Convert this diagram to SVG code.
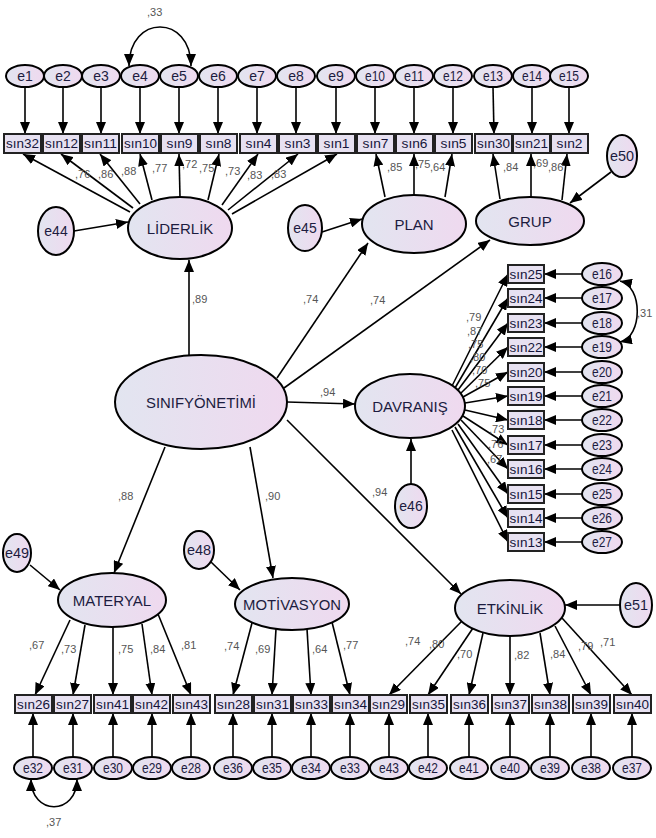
<svg xmlns="http://www.w3.org/2000/svg" width="656" height="838" viewBox="0 0 656 838">
<style>
.lat{stroke:#000;stroke-width:2;fill:url(#g)}
.err{stroke:#000;stroke-width:2;fill:url(#g)}
.box{stroke:#222;stroke-width:2;fill:#e7e1f1}
.lt{font-family:"Liberation Sans",Arial,sans-serif;font-size:15px;fill:#1c1c40;text-anchor:middle}
.et{font-family:"Liberation Sans",Arial,sans-serif;font-size:14px;fill:#1c1c40;text-anchor:middle}
.bt{font-family:"Liberation Sans",Arial,sans-serif;font-size:13px;fill:#15153a;text-anchor:middle}
.c{font-family:"Liberation Sans",Arial,sans-serif;font-size:11px;fill:#555}
.ln{stroke:#000;stroke-width:1.6;fill:none;marker-end:url(#ah)}
.cv{stroke:#000;stroke-width:1.6;fill:none;marker-start:url(#ah);marker-end:url(#ah)}
</style>
<defs>
<linearGradient id="g" x1="0" x2="1" y1="0" y2="0"><stop offset="0" stop-color="#e2e5f0"/><stop offset="1" stop-color="#efd9ef"/></linearGradient>
<marker id="ah" viewBox="0 0 12 10" refX="12" refY="5" markerWidth="12" markerHeight="10" markerUnits="userSpaceOnUse" orient="auto-start-reverse"><path d="M0,0 L12,5 L0,10 z" fill="#000"/></marker>
</defs>
<rect width="656" height="838" fill="#fff"/>

<g id="connectors">
<!-- top error arrows -->
<path class="ln" d="M25,87V134"/><path class="ln" d="M63,87V134"/><path class="ln" d="M101,87V134"/><path class="ln" d="M140,87V134"/><path class="ln" d="M179,87V134"/><path class="ln" d="M218,87V134"/><path class="ln" d="M257,87V134"/><path class="ln" d="M296,87V134"/><path class="ln" d="M336,87V134"/><path class="ln" d="M375,87V134"/><path class="ln" d="M414,87V134"/><path class="ln" d="M453,87V134"/><path class="ln" d="M493,87L494,134"/><path class="ln" d="M532,87V134"/><path class="ln" d="M569,87V134"/>
<path class="cv" d="M129,66 C129,14 191,14 191,66"/>
<!-- LIDERLIK indicators -->
<path class="ln" d="M130,212L23,154"/>
<path class="ln" d="M133,208L61,154"/>
<path class="ln" d="M140,204L100,154"/>
<path class="ln" d="M152,200L140,154"/>
<path class="ln" d="M180,197L179,154"/>
<path class="ln" d="M208,200L219,154"/>
<path class="ln" d="M222,205L258,154"/>
<path class="ln" d="M228,210L298,154"/>
<path class="ln" d="M232,214L337,154"/>
<path class="ln" d="M74,231L128,222"/>
<!-- PLAN -->
<path class="ln" d="M385,197L376,154"/>
<path class="ln" d="M414,195V154"/>
<path class="ln" d="M445,197L452,154"/>
<path class="ln" d="M322,232L362,219"/>
<!-- GRUP -->
<path class="ln" d="M500,199L493,154"/>
<path class="ln" d="M531,197V154"/>
<path class="ln" d="M562,200L567,154"/>
<path class="ln" d="M611,172L570,203"/>
<!-- structural -->
<path class="ln" d="M189,355V260"/>
<path class="ln" d="M277,378L368,243"/>
<path class="ln" d="M284,388L490,240"/>
<path class="ln" d="M287,402L355,404"/>
<path class="ln" d="M165,447L114,573"/>
<path class="ln" d="M250,447L273,578"/>
<path class="ln" d="M287,420L461,594"/>
<path class="ln" d="M411,484V439"/>
<!-- DAVRANIS indicators -->
<path class="ln" d="M452,386L508,274"/>
<path class="ln" d="M455,388L508,298"/>
<path class="ln" d="M458,390L508,323"/>
<path class="ln" d="M461,393L508,347"/>
<path class="ln" d="M463,397L508,372"/>
<path class="ln" d="M465,403L508,396"/>
<path class="ln" d="M465,410L508,420"/>
<path class="ln" d="M463,416L508,445"/>
<path class="ln" d="M461,420L508,469"/>
<path class="ln" d="M458,424L508,494"/>
<path class="ln" d="M455,427L508,518"/>
<path class="ln" d="M452,430L508,542"/>
<path class="ln" d="M582,274H544"/><path class="ln" d="M582,298H544"/><path class="ln" d="M582,323H544"/><path class="ln" d="M582,347H544"/><path class="ln" d="M582,372H544"/><path class="ln" d="M582,396H544"/><path class="ln" d="M582,420H544"/><path class="ln" d="M582,445H544"/><path class="ln" d="M582,469H544"/><path class="ln" d="M582,494H544"/><path class="ln" d="M582,518H544"/><path class="ln" d="M582,542H544"/>
<path class="cv" d="M620,281 C643,286 643,337 620,342"/>
<!-- MATERYAL -->
<path class="ln" d="M70,620L35,695"/>
<path class="ln" d="M85,625L73,695"/>
<path class="ln" d="M113,627V695"/>
<path class="ln" d="M142,624L152,695"/>
<path class="ln" d="M158,614L191,695"/>
<path class="ln" d="M30,565L60,590"/>
<!-- MOTIVASYON -->
<path class="ln" d="M252,623L233,695"/>
<path class="ln" d="M276,629L272,695"/>
<path class="ln" d="M307,629L311,695"/>
<path class="ln" d="M332,622L350,695"/>
<path class="ln" d="M211,562L240,590"/>
<!-- ETKINLIK -->
<path class="ln" d="M462,621L389,695"/>
<path class="ln" d="M473,628L428,695"/>
<path class="ln" d="M483,633L469,695"/>
<path class="ln" d="M510,636V695"/>
<path class="ln" d="M540,633L550,695"/>
<path class="ln" d="M555,626L591,695"/>
<path class="ln" d="M562,618L632,695"/>
<path class="ln" d="M620,605H565"/>
<!-- bottom error arrows -->
<path class="ln" d="M33,757V713"/><path class="ln" d="M73,757V713"/><path class="ln" d="M113,757V713"/><path class="ln" d="M152,757V713"/><path class="ln" d="M191,757V713"/><path class="ln" d="M233,757V713"/><path class="ln" d="M272,757V713"/><path class="ln" d="M311,757V713"/><path class="ln" d="M350,757V713"/><path class="ln" d="M389,757V713"/><path class="ln" d="M428,757V713"/><path class="ln" d="M469,757V713"/><path class="ln" d="M510,757V713"/><path class="ln" d="M550,757V713"/><path class="ln" d="M591,757V713"/><path class="ln" d="M632,757V713"/>
<path class="cv" d="M31,779 C31,816 77,816 77,779"/>
</g>

<g id="coefficients" class="c">
<text x="147" y="16">,33</text>
<text x="75" y="178">,76</text>
<text x="98" y="178">,86</text>
<text x="121" y="175">,88</text>
<text x="152" y="172">,77</text>
<text x="182" y="168">,72</text>
<text x="199" y="172">,75</text>
<text x="225" y="175">,73</text>
<text x="247" y="179">,83</text>
<text x="271" y="178">,83</text>
<text x="387" y="171">,85</text>
<text x="415" y="168">,75</text>
<text x="430" y="171">,64</text>
<text x="503" y="171">,84</text>
<text x="533" y="167">,69</text>
<text x="548" y="171">,86</text>
<text x="192" y="303">,89</text>
<text x="303" y="303">,74</text>
<text x="370" y="304">,74</text>
<text x="320" y="396">,94</text>
<text x="118" y="500">,88</text>
<text x="265" y="500">,90</text>
<text x="372" y="496">,94</text>
<text x="466" y="321">,79</text>
<text x="467" y="335">,87</text>
<text x="468" y="348">,75</text>
<text x="470" y="361">,80</text>
<text x="472" y="374">,70</text>
<text x="475" y="387">,75</text>
<text x="489" y="433">,73</text>
<text x="488" y="448">,76</text>
<text x="487" y="463">,67</text>
<text x="637" y="317">,31</text>
<text x="29" y="649">,67</text>
<text x="61" y="653">,73</text>
<text x="118" y="653">,75</text>
<text x="150" y="653">,84</text>
<text x="181" y="649">,81</text>
<text x="224" y="650">,74</text>
<text x="255" y="653">,69</text>
<text x="312" y="653">,64</text>
<text x="343" y="649">,77</text>
<text x="405" y="645">,74</text>
<text x="429" y="648">,80</text>
<text x="457" y="658">,70</text>
<text x="514" y="659">,82</text>
<text x="550" y="658">,84</text>
<text x="578" y="650">,79</text>
<text x="600" y="646">,71</text>
<text x="46" y="826">,37</text>
</g>

<g id="top-errors">
<g id="e1"><ellipse class="err" cx="25" cy="76" rx="19" ry="11"/><text class="et" x="25" y="81">e1</text></g>
<g id="e2"><ellipse class="err" cx="63" cy="76" rx="19" ry="11"/><text class="et" x="63" y="81">e2</text></g>
<g id="e3"><ellipse class="err" cx="101" cy="76" rx="19" ry="11"/><text class="et" x="101" y="81">e3</text></g>
<g id="e4"><ellipse class="err" cx="140" cy="76" rx="19" ry="11"/><text class="et" x="140" y="81">e4</text></g>
<g id="e5"><ellipse class="err" cx="179" cy="76" rx="19" ry="11"/><text class="et" x="179" y="81">e5</text></g>
<g id="e6"><ellipse class="err" cx="218" cy="76" rx="19" ry="11"/><text class="et" x="218" y="81">e6</text></g>
<g id="e7"><ellipse class="err" cx="257" cy="76" rx="19" ry="11"/><text class="et" x="257" y="81">e7</text></g>
<g id="e8"><ellipse class="err" cx="296" cy="76" rx="19" ry="11"/><text class="et" x="296" y="81">e8</text></g>
<g id="e9"><ellipse class="err" cx="336" cy="76" rx="19" ry="11"/><text class="et" x="336" y="81">e9</text></g>
<g id="e10"><ellipse class="err" cx="375" cy="76" rx="19" ry="11"/><text class="et" x="375" y="81" textLength="20" lengthAdjust="spacingAndGlyphs">e10</text></g>
<g id="e11"><ellipse class="err" cx="414" cy="76" rx="19" ry="11"/><text class="et" x="414" y="81" textLength="20" lengthAdjust="spacingAndGlyphs">e11</text></g>
<g id="e12"><ellipse class="err" cx="453" cy="76" rx="19" ry="11"/><text class="et" x="453" y="81" textLength="20" lengthAdjust="spacingAndGlyphs">e12</text></g>
<g id="e13"><ellipse class="err" cx="493" cy="76" rx="19" ry="11"/><text class="et" x="493" y="81" textLength="20" lengthAdjust="spacingAndGlyphs">e13</text></g>
<g id="e14"><ellipse class="err" cx="532" cy="76" rx="19" ry="11"/><text class="et" x="532" y="81" textLength="20" lengthAdjust="spacingAndGlyphs">e14</text></g>
<g id="e15"><ellipse class="err" cx="569" cy="76" rx="19" ry="11"/><text class="et" x="569" y="81" textLength="20" lengthAdjust="spacingAndGlyphs">e15</text></g>
</g>

<g id="top-items">
<g id="sin32"><rect class="box" x="4" y="134" width="37" height="19"/><text class="bt" x="22.5" y="148" textLength="33" lengthAdjust="spacingAndGlyphs">sın32</text></g>
<g id="sin12"><rect class="box" x="43" y="134" width="37" height="19"/><text class="bt" x="61.5" y="148" textLength="33" lengthAdjust="spacingAndGlyphs">sın12</text></g>
<g id="sin11"><rect class="box" x="82" y="134" width="37" height="19"/><text class="bt" x="100.5" y="148" textLength="33" lengthAdjust="spacingAndGlyphs">sın11</text></g>
<g id="sin10"><rect class="box" x="122" y="134" width="37" height="19"/><text class="bt" x="140.5" y="148" textLength="33" lengthAdjust="spacingAndGlyphs">sın10</text></g>
<g id="sin9"><rect class="box" x="161" y="134" width="37" height="19"/><text class="bt" x="179.5" y="148" textLength="26" lengthAdjust="spacingAndGlyphs">sın9</text></g>
<g id="sin8"><rect class="box" x="200" y="134" width="37" height="19"/><text class="bt" x="218.5" y="148" textLength="26" lengthAdjust="spacingAndGlyphs">sın8</text></g>
<g id="sin4"><rect class="box" x="240" y="134" width="37" height="19"/><text class="bt" x="258.5" y="148" textLength="26" lengthAdjust="spacingAndGlyphs">sın4</text></g>
<g id="sin3"><rect class="box" x="279" y="134" width="37" height="19"/><text class="bt" x="297.5" y="148" textLength="26" lengthAdjust="spacingAndGlyphs">sın3</text></g>
<g id="sin1"><rect class="box" x="318" y="134" width="37" height="19"/><text class="bt" x="336.5" y="148" textLength="26" lengthAdjust="spacingAndGlyphs">sın1</text></g>
<g id="sin7"><rect class="box" x="357" y="134" width="37" height="19"/><text class="bt" x="375.5" y="148" textLength="26" lengthAdjust="spacingAndGlyphs">sın7</text></g>
<g id="sin6"><rect class="box" x="396" y="134" width="37" height="19"/><text class="bt" x="414.5" y="148" textLength="26" lengthAdjust="spacingAndGlyphs">sın6</text></g>
<g id="sin5"><rect class="box" x="435" y="134" width="37" height="19"/><text class="bt" x="453.5" y="148" textLength="26" lengthAdjust="spacingAndGlyphs">sın5</text></g>
<g id="sin30"><rect class="box" x="475" y="134" width="37" height="19"/><text class="bt" x="493.5" y="148" textLength="33" lengthAdjust="spacingAndGlyphs">sın30</text></g>
<g id="sin21"><rect class="box" x="513" y="134" width="37" height="19"/><text class="bt" x="531.5" y="148" textLength="33" lengthAdjust="spacingAndGlyphs">sın21</text></g>
<g id="sin2"><rect class="box" x="551" y="134" width="37" height="19"/><text class="bt" x="569.5" y="148" textLength="26" lengthAdjust="spacingAndGlyphs">sın2</text></g>
</g>

<g id="latents">
<g id="LIDERLIK"><ellipse class="lat" cx="180" cy="228" rx="52" ry="31"/><text class="lt" x="180" y="234">LİDERLİK</text></g>
<g id="PLAN"><ellipse class="lat" cx="414" cy="224" rx="52" ry="29"/><text class="lt" x="414" y="230">PLAN</text></g>
<g id="GRUP"><ellipse class="lat" cx="530" cy="221" rx="54" ry="24"/><text class="lt" x="530" y="227">GRUP</text></g>
<g id="SINIFYONETIMI"><ellipse class="lat" cx="201" cy="402" rx="86" ry="47"/><text class="lt" x="201" y="408" font-size="16" textLength="110" lengthAdjust="spacingAndGlyphs">SINIFYÖNETİMİ</text></g>
<g id="DAVRANIS"><ellipse class="lat" cx="410" cy="406" rx="55" ry="32"/><text class="lt" x="410" y="412">DAVRANIŞ</text></g>
<g id="MATERYAL"><ellipse class="lat" cx="112" cy="600" rx="54" ry="27"/><text class="lt" x="112" y="606">MATERYAL</text></g>
<g id="MOTIVASYON"><ellipse class="lat" cx="292" cy="604" rx="57" ry="26"/><text class="lt" x="292" y="610" textLength="98" lengthAdjust="spacingAndGlyphs">MOTİVASYON</text></g>
<g id="ETKINLIK"><ellipse class="lat" cx="510" cy="608" rx="55" ry="28"/><text class="lt" x="510" y="614">ETKİNLİK</text></g>
</g>

<g id="disturbances">
<g id="e44"><ellipse class="err" cx="56" cy="231" rx="18" ry="24"/><text class="et" x="56" y="236">e44</text></g>
<g id="e45"><ellipse class="err" cx="305" cy="228" rx="17" ry="23"/><text class="et" x="305" y="233">e45</text></g>
<g id="e50"><ellipse class="err" cx="622" cy="156" rx="15" ry="21"/><text class="et" x="622" y="161" textLength="24" lengthAdjust="spacingAndGlyphs">e50</text></g>
<g id="e46"><ellipse class="err" cx="411" cy="506" rx="16" ry="22"/><text class="et" x="411" y="511">e46</text></g>
<g id="e49"><ellipse class="err" cx="17" cy="553" rx="14" ry="19"/><text class="et" x="17" y="558" textLength="24" lengthAdjust="spacingAndGlyphs">e49</text></g>
<g id="e48"><ellipse class="err" cx="199" cy="550" rx="15" ry="19"/><text class="et" x="199" y="555" textLength="24" lengthAdjust="spacingAndGlyphs">e48</text></g>
<g id="e51"><ellipse class="err" cx="636" cy="605" rx="16" ry="22"/><text class="et" x="636" y="610" textLength="24" lengthAdjust="spacingAndGlyphs">e51</text></g>
</g>

<g id="davranis-items">
<g id="sin25"><rect class="box" x="508" y="265" width="36" height="18"/><text class="bt" x="526" y="279" textLength="33" lengthAdjust="spacingAndGlyphs">sın25</text></g>
<g id="sin24"><rect class="box" x="508" y="289" width="36" height="18"/><text class="bt" x="526" y="303" textLength="33" lengthAdjust="spacingAndGlyphs">sın24</text></g>
<g id="sin23"><rect class="box" x="508" y="314" width="36" height="18"/><text class="bt" x="526" y="328" textLength="33" lengthAdjust="spacingAndGlyphs">sın23</text></g>
<g id="sin22"><rect class="box" x="508" y="338" width="36" height="18"/><text class="bt" x="526" y="352" textLength="33" lengthAdjust="spacingAndGlyphs">sın22</text></g>
<g id="sin20"><rect class="box" x="508" y="363" width="36" height="18"/><text class="bt" x="526" y="377" textLength="33" lengthAdjust="spacingAndGlyphs">sın20</text></g>
<g id="sin19"><rect class="box" x="508" y="387" width="36" height="18"/><text class="bt" x="526" y="401" textLength="33" lengthAdjust="spacingAndGlyphs">sın19</text></g>
<g id="sin18"><rect class="box" x="508" y="411" width="36" height="18"/><text class="bt" x="526" y="425" textLength="33" lengthAdjust="spacingAndGlyphs">sın18</text></g>
<g id="sin17"><rect class="box" x="508" y="436" width="36" height="18"/><text class="bt" x="526" y="450" textLength="33" lengthAdjust="spacingAndGlyphs">sın17</text></g>
<g id="sin16"><rect class="box" x="508" y="460" width="36" height="18"/><text class="bt" x="526" y="474" textLength="33" lengthAdjust="spacingAndGlyphs">sın16</text></g>
<g id="sin15"><rect class="box" x="508" y="485" width="36" height="18"/><text class="bt" x="526" y="499" textLength="33" lengthAdjust="spacingAndGlyphs">sın15</text></g>
<g id="sin14"><rect class="box" x="508" y="509" width="36" height="18"/><text class="bt" x="526" y="523" textLength="33" lengthAdjust="spacingAndGlyphs">sın14</text></g>
<g id="sin13"><rect class="box" x="508" y="533" width="36" height="18"/><text class="bt" x="526" y="547" textLength="33" lengthAdjust="spacingAndGlyphs">sın13</text></g>
</g>

<g id="right-errors">
<g id="e16"><ellipse class="err" cx="602" cy="274" rx="20" ry="11"/><text class="et" x="602" y="279" textLength="20" lengthAdjust="spacingAndGlyphs">e16</text></g>
<g id="e17"><ellipse class="err" cx="602" cy="298" rx="20" ry="11"/><text class="et" x="602" y="303" textLength="20" lengthAdjust="spacingAndGlyphs">e17</text></g>
<g id="e18"><ellipse class="err" cx="602" cy="323" rx="20" ry="11"/><text class="et" x="602" y="328" textLength="20" lengthAdjust="spacingAndGlyphs">e18</text></g>
<g id="e19"><ellipse class="err" cx="602" cy="347" rx="20" ry="11"/><text class="et" x="602" y="352" textLength="20" lengthAdjust="spacingAndGlyphs">e19</text></g>
<g id="e20"><ellipse class="err" cx="602" cy="372" rx="20" ry="11"/><text class="et" x="602" y="377" textLength="20" lengthAdjust="spacingAndGlyphs">e20</text></g>
<g id="e21"><ellipse class="err" cx="602" cy="396" rx="20" ry="11"/><text class="et" x="602" y="401" textLength="20" lengthAdjust="spacingAndGlyphs">e21</text></g>
<g id="e22"><ellipse class="err" cx="602" cy="420" rx="20" ry="11"/><text class="et" x="602" y="425" textLength="20" lengthAdjust="spacingAndGlyphs">e22</text></g>
<g id="e23"><ellipse class="err" cx="602" cy="445" rx="20" ry="11"/><text class="et" x="602" y="450" textLength="20" lengthAdjust="spacingAndGlyphs">e23</text></g>
<g id="e24"><ellipse class="err" cx="602" cy="469" rx="20" ry="11"/><text class="et" x="602" y="474" textLength="20" lengthAdjust="spacingAndGlyphs">e24</text></g>
<g id="e25"><ellipse class="err" cx="602" cy="494" rx="20" ry="11"/><text class="et" x="602" y="499" textLength="20" lengthAdjust="spacingAndGlyphs">e25</text></g>
<g id="e26"><ellipse class="err" cx="602" cy="518" rx="20" ry="11"/><text class="et" x="602" y="523" textLength="20" lengthAdjust="spacingAndGlyphs">e26</text></g>
<g id="e27"><ellipse class="err" cx="602" cy="542" rx="20" ry="11"/><text class="et" x="602" y="547" textLength="20" lengthAdjust="spacingAndGlyphs">e27</text></g>
</g>

<g id="bottom-items">
<g id="sin26"><rect class="box" x="15" y="695" width="37" height="18"/><text class="bt" x="33.5" y="709" textLength="33" lengthAdjust="spacingAndGlyphs">sın26</text></g>
<g id="sin27"><rect class="box" x="54" y="695" width="37" height="18"/><text class="bt" x="72.5" y="709" textLength="33" lengthAdjust="spacingAndGlyphs">sın27</text></g>
<g id="sin41"><rect class="box" x="94" y="695" width="37" height="18"/><text class="bt" x="112.5" y="709" textLength="33" lengthAdjust="spacingAndGlyphs">sın41</text></g>
<g id="sin42"><rect class="box" x="133" y="695" width="37" height="18"/><text class="bt" x="151.5" y="709" textLength="33" lengthAdjust="spacingAndGlyphs">sın42</text></g>
<g id="sin43"><rect class="box" x="173" y="695" width="37" height="18"/><text class="bt" x="191.5" y="709" textLength="33" lengthAdjust="spacingAndGlyphs">sın43</text></g>
<g id="sin28"><rect class="box" x="215" y="695" width="37" height="18"/><text class="bt" x="233.5" y="709" textLength="33" lengthAdjust="spacingAndGlyphs">sın28</text></g>
<g id="sin31"><rect class="box" x="254" y="695" width="37" height="18"/><text class="bt" x="272.5" y="709" textLength="33" lengthAdjust="spacingAndGlyphs">sın31</text></g>
<g id="sin33"><rect class="box" x="293" y="695" width="37" height="18"/><text class="bt" x="311.5" y="709" textLength="33" lengthAdjust="spacingAndGlyphs">sın33</text></g>
<g id="sin34"><rect class="box" x="332" y="695" width="37" height="18"/><text class="bt" x="350.5" y="709" textLength="33" lengthAdjust="spacingAndGlyphs">sın34</text></g>
<g id="sin29"><rect class="box" x="370" y="695" width="37" height="18"/><text class="bt" x="388.5" y="709" textLength="33" lengthAdjust="spacingAndGlyphs">sın29</text></g>
<g id="sin35"><rect class="box" x="410" y="695" width="37" height="18"/><text class="bt" x="428.5" y="709" textLength="33" lengthAdjust="spacingAndGlyphs">sın35</text></g>
<g id="sin36"><rect class="box" x="451" y="695" width="37" height="18"/><text class="bt" x="469.5" y="709" textLength="33" lengthAdjust="spacingAndGlyphs">sın36</text></g>
<g id="sin37"><rect class="box" x="492" y="695" width="37" height="18"/><text class="bt" x="510.5" y="709" textLength="33" lengthAdjust="spacingAndGlyphs">sın37</text></g>
<g id="sin38"><rect class="box" x="532" y="695" width="37" height="18"/><text class="bt" x="550.5" y="709" textLength="33" lengthAdjust="spacingAndGlyphs">sın38</text></g>
<g id="sin39"><rect class="box" x="573" y="695" width="37" height="18"/><text class="bt" x="591.5" y="709" textLength="33" lengthAdjust="spacingAndGlyphs">sın39</text></g>
<g id="sin40"><rect class="box" x="614" y="695" width="37" height="18"/><text class="bt" x="632.5" y="709" textLength="33" lengthAdjust="spacingAndGlyphs">sın40</text></g>
</g>

<g id="bottom-errors">
<g id="e32"><ellipse class="err" cx="33" cy="768" rx="19" ry="11"/><text class="et" x="33" y="773" textLength="20" lengthAdjust="spacingAndGlyphs">e32</text></g>
<g id="e31"><ellipse class="err" cx="73" cy="768" rx="19" ry="11"/><text class="et" x="73" y="773" textLength="20" lengthAdjust="spacingAndGlyphs">e31</text></g>
<g id="e30"><ellipse class="err" cx="113" cy="768" rx="19" ry="11"/><text class="et" x="113" y="773" textLength="20" lengthAdjust="spacingAndGlyphs">e30</text></g>
<g id="e29"><ellipse class="err" cx="152" cy="768" rx="19" ry="11"/><text class="et" x="152" y="773" textLength="20" lengthAdjust="spacingAndGlyphs">e29</text></g>
<g id="e28"><ellipse class="err" cx="191" cy="768" rx="19" ry="11"/><text class="et" x="191" y="773" textLength="20" lengthAdjust="spacingAndGlyphs">e28</text></g>
<g id="e36"><ellipse class="err" cx="233" cy="768" rx="19" ry="11"/><text class="et" x="233" y="773" textLength="20" lengthAdjust="spacingAndGlyphs">e36</text></g>
<g id="e35"><ellipse class="err" cx="272" cy="768" rx="19" ry="11"/><text class="et" x="272" y="773" textLength="20" lengthAdjust="spacingAndGlyphs">e35</text></g>
<g id="e34"><ellipse class="err" cx="311" cy="768" rx="19" ry="11"/><text class="et" x="311" y="773" textLength="20" lengthAdjust="spacingAndGlyphs">e34</text></g>
<g id="e33"><ellipse class="err" cx="350" cy="768" rx="19" ry="11"/><text class="et" x="350" y="773" textLength="20" lengthAdjust="spacingAndGlyphs">e33</text></g>
<g id="e43"><ellipse class="err" cx="389" cy="768" rx="19" ry="11"/><text class="et" x="389" y="773" textLength="20" lengthAdjust="spacingAndGlyphs">e43</text></g>
<g id="e42"><ellipse class="err" cx="428" cy="768" rx="19" ry="11"/><text class="et" x="428" y="773" textLength="20" lengthAdjust="spacingAndGlyphs">e42</text></g>
<g id="e41"><ellipse class="err" cx="469" cy="768" rx="19" ry="11"/><text class="et" x="469" y="773" textLength="20" lengthAdjust="spacingAndGlyphs">e41</text></g>
<g id="e40"><ellipse class="err" cx="510" cy="768" rx="19" ry="11"/><text class="et" x="510" y="773" textLength="20" lengthAdjust="spacingAndGlyphs">e40</text></g>
<g id="e39"><ellipse class="err" cx="550" cy="768" rx="19" ry="11"/><text class="et" x="550" y="773" textLength="20" lengthAdjust="spacingAndGlyphs">e39</text></g>
<g id="e38"><ellipse class="err" cx="591" cy="768" rx="19" ry="11"/><text class="et" x="591" y="773" textLength="20" lengthAdjust="spacingAndGlyphs">e38</text></g>
<g id="e37"><ellipse class="err" cx="632" cy="768" rx="19" ry="11"/><text class="et" x="632" y="773" textLength="20" lengthAdjust="spacingAndGlyphs">e37</text></g>
</g>
</svg>
